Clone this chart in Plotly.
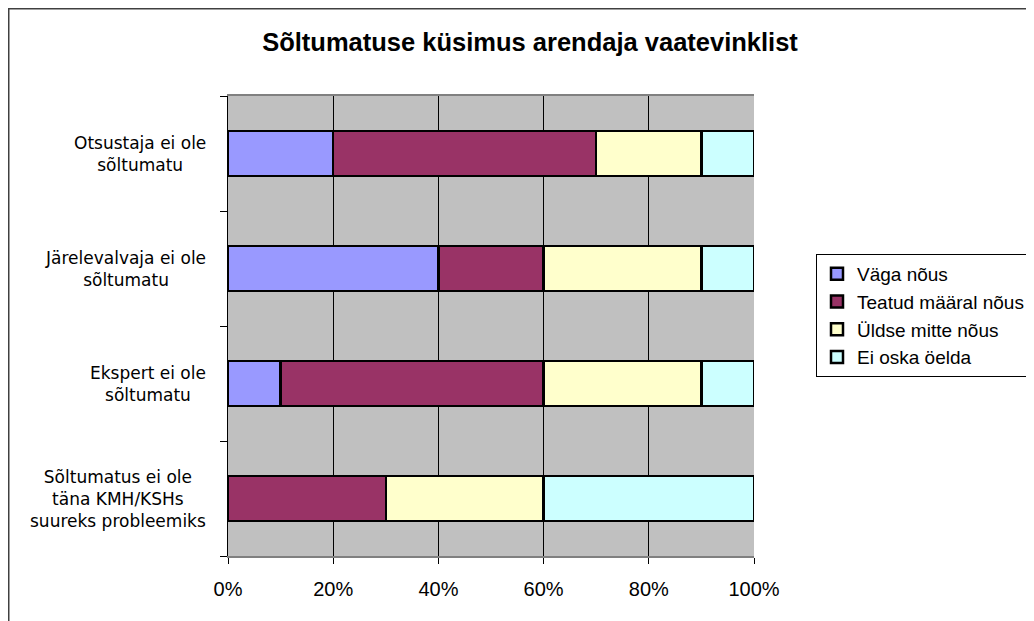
import plotly.graph_objects as go

categories = ["Sõltumatus ei ole<br>täna KMH/KSHs<br>suureks probleemiks",
              "Ekspert ei ole<br>sõltumatu",
              "Järelevalvaja ei ole<br>sõltumatu",
              "Otsustaja ei ole<br>sõltumatu"]
series_names = ["Väga nõus", "Teatud määral nõus", "Üldse mitte nõus", "Ei oska öelda"]
vaga_nous = [0, 10, 40, 20]
teatud_nous = [30, 50, 20, 50]
uldse_mitte = [30, 30, 30, 20]
ei_oska = [40, 10, 10, 10]
x_ticks = [0, 20, 40, 60, 80, 100]
x_tick_labels = ["0%", "20%", "40%", "60%", "80%", "100%"]

colors = ["#9999FF", "#993366", "#FFFFCC", "#CCFFFF"]
values = [vaga_nous, teatud_nous, uldse_mitte, ei_oska]

OFF = 8  # page body offset
W, H = 1034, 621
L, R, T, B = 220, 288, 88, 73
PW, PH = W - L - R, H - T - B

fig = go.Figure()
for name, vals, col in zip(series_names, values, colors):
    fig.add_trace(go.Bar(
        y=categories, x=vals, name=name, orientation="h",
        marker=dict(color=col, line=dict(color="black", width=2.5)),
        width=0.39,
    ))

for cat in categories:
    fig.add_annotation(text=cat, xref="paper", yref="y", x=-20 / PW, y=cat,
                       xanchor="right", yanchor="middle", align="center",
                       showarrow=False,
                       font=dict(size=17, family="DejaVu Sans, Tahoma", color="black"))

fig.update_layout(
    barmode="stack",
    width=W, height=H,
    margin=dict(l=L, r=R, t=T, b=B),
    paper_bgcolor="white",
    plot_bgcolor="#C0C0C0",
    font=dict(family="Liberation Sans, Arial", color="black"),
    title=dict(text="<b>Sõltumatuse küsimus arendaja vaatevinklist</b>",
               font=dict(size=25.5, family="Liberation Sans, Arial"),
               x=(530 - OFF - L) / PW, xref="paper", xanchor="center",
               y=1 - (42 - OFF) / H, yref="container", yanchor="middle"),
    showlegend=True,
    legend=dict(xref="container", yref="container",
                x=(816 - OFF) / W, y=1 - (254 - OFF) / H, xanchor="left", yanchor="top",
                bgcolor="white", bordercolor="black", borderwidth=1,
                font=dict(size=19, family="Liberation Sans, Arial"),
                traceorder="normal", tracegroupgap=0, itemwidth=30),
    bargap=0.61,
)
fig.update_xaxes(range=[0, 100], tickvals=x_ticks, ticktext=x_tick_labels,
                 showgrid=True, gridcolor="black", gridwidth=1,
                 ticks="outside", ticklen=6, tickcolor="black",
                 showline=True, linecolor="#808080", linewidth=2, mirror=True,
                 tickfont=dict(size=20, family="Liberation Sans, Arial"),
                 ticklabelstandoff=8,
                 zeroline=False)
fig.update_yaxes(showgrid=False, ticks="outside", ticklen=7, tickcolor="black",
                 showline=True, linecolor="black", linewidth=1,
                 tickson="boundaries", showticklabels=False)

# outer chart frame (left and top visible)
fig.add_shape(type="rect", xref="paper", yref="paper",
              x0=(0.5 - L) / PW, x1=(W + 20 - L) / PW,
              y0=(H - B - (H + 20)) / PH, y1=(H - B - 0.5) / PH,
              line=dict(color="#404040", width=2), layer="below")

fig.write_html("out.html")
